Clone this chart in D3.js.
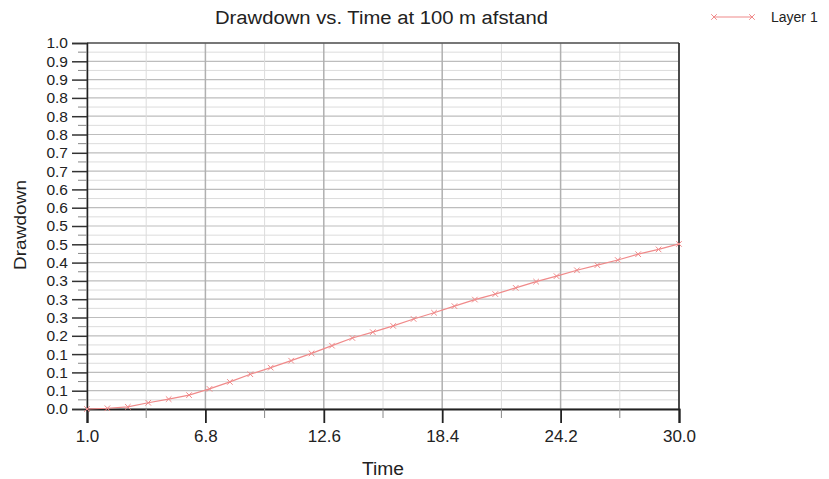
<!DOCTYPE html>
<html lang="en">
<head>
    <meta charset="utf-8">
    <title>Drawdown vs. Time</title>
    <script src="https://d3js.org/d3.v7.min.js"></script>
    <style>
        body { margin: 0; background: #fff; }
        text { font-family: "Liberation Sans", Arial, sans-serif; fill: #222; }
    </style>
</head>
<body>
<script type="text/javascript">
    // data
    var times = [1, 2, 3, 4, 5, 6, 7, 8, 9, 10, 11, 12, 13, 14, 15, 16, 17, 18, 19, 20,
                 21, 22, 23, 24, 25, 26, 27, 28, 29, 30];
    var drawdown = [0.000, 0.002, 0.006, 0.017, 0.027, 0.038, 0.055, 0.074, 0.095, 0.113,
                    0.132, 0.152, 0.173, 0.194, 0.210, 0.227, 0.246, 0.263, 0.281, 0.299,
                    0.314, 0.331, 0.348, 0.363, 0.379, 0.393, 0.407, 0.423, 0.436, 0.451];
    var xTicks = [1.0, 6.8, 12.6, 18.4, 24.2, 30.0];
    var yTickLabels = ["0.0", "0.1", "0.1", "0.1", "0.2", "0.3", "0.3", "0.3", "0.4", "0.5",
                       "0.5", "0.6", "0.6", "0.7", "0.7", "0.8", "0.8", "0.8", "0.9", "0.9", "1.0"];

    var width = 829, height = 479;
    var margin = {left: 87, right: 150, top: 43, bottom: 70};
    var font = "'Liberation Sans', Arial, sans-serif";

    var svg = d3.select("body")
            .append("svg")
            .attr("width", width)
            .attr("height", height);

    var x = d3.scaleLinear().domain([1, 30]).range([margin.left, width - margin.right]);
    var y = d3.scaleLinear().domain([0, 1]).range([height - margin.bottom, margin.top]);

    var yMajor = d3.range(0, 21).map(function(i) { return i / 20; });
    var yMinor = d3.range(0, 20).map(function(i) { return (i + 0.5) / 20; });
    var xMinor = d3.range(0, 5).map(function(i) { return 1 + 5.8 * (i + 0.5); });

    // grid
    var grid = svg.append("g");
    grid.selectAll(".hmin").data(yMinor).enter().append("line")
        .attr("x1", x(1)).attr("x2", x(30))
        .attr("y1", d => y(d)).attr("y2", d => y(d))
        .attr("stroke", "#dcdcdc").attr("stroke-width", 1);
    grid.selectAll(".hmaj").data(yMajor).enter().append("line")
        .attr("x1", x(1)).attr("x2", x(30))
        .attr("y1", d => y(d)).attr("y2", d => y(d))
        .attr("stroke", "#bdbdbd").attr("stroke-width", 1.2);
    grid.selectAll(".vmin").data(xMinor).enter().append("line")
        .attr("y1", y(0)).attr("y2", y(1))
        .attr("x1", d => x(d)).attr("x2", d => x(d))
        .attr("stroke", "#dcdcdc").attr("stroke-width", 1);
    grid.selectAll(".vmaj").data(xTicks).enter().append("line")
        .attr("y1", y(0)).attr("y2", y(1))
        .attr("x1", d => x(d)).attr("x2", d => x(d))
        .attr("stroke", "#b0b0b0").attr("stroke-width", 1.5);

    // frame top and right
    svg.append("line").attr("x1", x(1)).attr("x2", x(30)).attr("y1", y(1)).attr("y2", y(1))
        .attr("stroke", "#555").attr("stroke-width", 1.5);
    svg.append("line").attr("x1", x(30)).attr("x2", x(30)).attr("y1", y(1)).attr("y2", y(0))
        .attr("stroke", "#222").attr("stroke-width", 1.5);

    // y axis
    var yAxis = d3.axisLeft(y).tickValues(yMajor).tickSize(15).tickPadding(4)
        .tickFormat((d, i) => yTickLabels[i]);
    var gy = svg.append("g").attr("transform", "translate(" + x(1) + ",0)").call(yAxis);
    gy.attr("font-size", null).attr("font-family", null);
    gy.selectAll(".tick text").style("font-size", "15.5px").style("font-family", font).attr("fill", "#222");
    gy.selectAll(".tick line").attr("stroke", "#333").attr("stroke-width", 1.5);
    gy.select(".domain").attr("stroke", "#222").attr("stroke-width", 1.5);
    gy.selectAll(".minor").data(yMinor).enter().append("line")
        .attr("x1", -9).attr("x2", 0)
        .attr("y1", d => y(d)).attr("y2", d => y(d))
        .attr("stroke", "#888").attr("stroke-width", 1);

    // x axis
    var xAxis = d3.axisBottom(x).tickValues(xTicks).tickSize(14).tickPadding(7)
        .tickFormat(d3.format(".1f"));
    var gx = svg.append("g").attr("transform", "translate(0," + y(0) + ")").call(xAxis);
    gx.attr("font-size", null).attr("font-family", null);
    gx.selectAll(".tick text").style("font-size", "17px").style("font-family", font).attr("fill", "#222");
    gx.selectAll(".tick line").attr("stroke", "#222").attr("stroke-width", 1.8);
    gx.select(".domain").attr("stroke", "#222").attr("stroke-width", 2);
    gx.selectAll(".minor").data(xMinor).enter().append("line")
        .attr("y1", 0).attr("y2", 9)
        .attr("x1", d => x(d)).attr("x2", d => x(d))
        .attr("stroke", "#888").attr("stroke-width", 1);

    // series line and x markers
    var color = "#f08a8a";
    var pts = times.map((t, i) => [t, drawdown[i]]);
    svg.append("path")
        .datum(pts)
        .attr("fill", "none")
        .attr("stroke", color)
        .attr("stroke-width", 1.2)
        .attr("d", d3.line().x(d => x(d[0])).y(d => y(d[1])));
    var sym = d3.symbol().type(d3.symbolX).size(22);
    svg.selectAll(".pt").data(pts).enter().append("path")
        .attr("transform", d => "translate(" + x(d[0]) + "," + y(d[1]) + ")")
        .attr("d", sym)
        .attr("fill", "none")
        .attr("stroke", color)
        .attr("stroke-width", 1);

    // titles
    svg.append("text").attr("x", 381.5).attr("y", 24)
        .attr("text-anchor", "middle").style("font-size", "18px")
        .attr("textLength", 333).attr("lengthAdjust", "spacingAndGlyphs")
        .text("Drawdown vs. Time at 100 m afstand");
    svg.append("text").attr("x", 383).attr("y", 475)
        .attr("text-anchor", "middle").style("font-size", "18px")
        .attr("textLength", 42).attr("lengthAdjust", "spacingAndGlyphs")
        .text("Time");
    svg.append("text")
        .attr("transform", "translate(25.5,225) rotate(-90)")
        .attr("text-anchor", "middle").style("font-size", "17px")
        .attr("textLength", 90).attr("lengthAdjust", "spacingAndGlyphs")
        .text("Drawdown");

    // legend
    var lg = svg.append("g").attr("transform", "translate(714,17)");
    lg.append("line").attr("x1", 0).attr("x2", 38).attr("y1", 0).attr("y2", 0)
        .attr("stroke", color).attr("stroke-width", 1.2);
    lg.selectAll(".lm").data([0, 38]).enter().append("path")
        .attr("transform", d => "translate(" + d + ",0)")
        .attr("d", sym).attr("fill", "none").attr("stroke", color);
    lg.append("text").attr("x", 57).attr("y", 5).style("font-size", "14px").text("Layer 1");
</script>
</body>
</html>
